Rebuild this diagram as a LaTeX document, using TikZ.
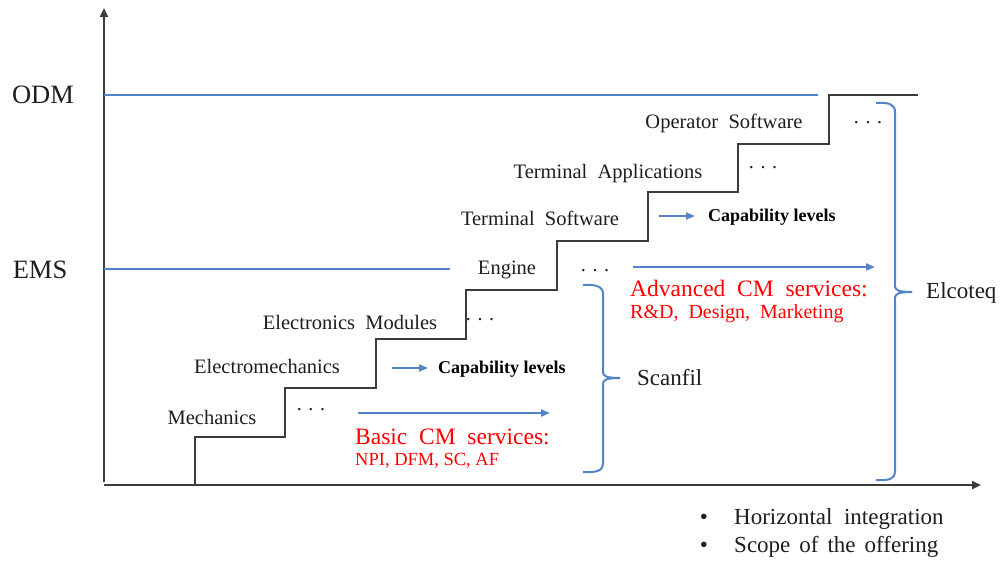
\documentclass[tikz,border=0pt]{standalone}
\usepackage{fontspec}
\setmainfont{Liberation Serif}
\usetikzlibrary{arrows.meta}
\definecolor{axisgray}{RGB}{60,60,60}
\definecolor{lineblue}{RGB}{84,132,200}
\definecolor{txtgray}{RGB}{30,30,30}
\tikzset{
  axisline/.style={draw=axisgray, line width=2.2pt, -{Triangle[length=9pt,width=8pt]}},
  stairline/.style={draw=axisgray, line width=2pt},
  levelline/.style={draw=lineblue, line width=2pt},
  bluearrow/.style={draw=lineblue, line width=2pt, -{Triangle[length=9pt,width=7pt]}},
  bracepath/.style={draw=lineblue, line width=2pt},
  lbl/.style={inner sep=0pt, text=txtgray, font=\fontsize{20.5}{24}\selectfont},
  biglbl/.style={inner sep=0pt, text=txtgray, font=\fontsize{26.5}{30}\selectfont},
  midlbl/.style={inner sep=0pt, text=txtgray, font=\fontsize{23}{27}\selectfont},
  caplbl/.style={inner sep=0pt, anchor=west, text=black, font=\fontsize{18}{22}\selectfont\bfseries},
  redhead/.style={inner sep=0pt, anchor=west, text=red, font=\fontsize{23.5}{27}\selectfont},
  redsub/.style={inner sep=0pt, anchor=west, text=red, font=\fontsize{18.5}{22}\selectfont},
  dotslbl/.style={inner sep=0pt, text=txtgray, font=\fontsize{20}{24}\selectfont},
}
\begin{document}
\begin{tikzpicture}[x=1pt,y=-1pt]
\useasboundingbox (0,0) rectangle (1000,560);
\fill[white] (0,0) rectangle (1000,560);

% axes
\coordinate (ybot) at (104,482);
\coordinate (ytop) at (104,8);
\coordinate (xbeg) at (104,485);
\coordinate (xend) at (981,485);
\draw[axisline] (ybot) -- (ytop);
\draw[axisline] (xbeg) -- (xend);

% level lines
\node[biglbl] (odm) at (43,95) {ODM};
\node[biglbl] (ems) at (40,270) {EMS};
\coordinate (odmA) at (104,94.5);
\coordinate (odmB) at (818,94.5);
\coordinate (emsA) at (104,269);
\coordinate (emsB) at (450,269);
\draw[levelline] (odmA) -- (odmB);
\draw[levelline] (emsA) -- (emsB);

% staircase
\draw[stairline] (195,485) -- (195,437) -- (285,437) -- (285,388) -- (376,388)
  -- (376,339) -- (466,339) -- (466,290) -- (557,290) -- (557,241) -- (648,241)
  -- (648,192) -- (738,192) -- (738,144) -- (829,144) -- (829,94.5) -- (918,94.5);

% step labels
\node[lbl] (mech) at (212,417) {Mechanics};
\node[lbl] (emech) at (267,366) {Electromechanics};
\node[lbl] (emod) at (350,322) {Electronics\ \ Modules};
\node[lbl] (eng) at (507,270) {Engine};
\node[lbl] (tsw) at (540,218) {Terminal\ \ Software};
\node[lbl] (tapp) at (608,174) {Terminal\ \ Applications};
\node[lbl] (osw) at (724,123) {Operator\ \ Software};

% dots
\node[dotslbl] (d1) at (311,410) {.\,\,.\,\,.};
\node[dotslbl] (d2) at (480,320) {.\,\,.\,\,.};
\node[dotslbl] (d3) at (595,271) {.\,\,.\,\,.};
\node[dotslbl] (d4) at (763,168) {.\,\,.\,\,.};
\node[dotslbl] (d5) at (868,123) {.\,\,.\,\,.};

% capability levels
\coordinate (c1a) at (392,368);
\coordinate (c1b) at (428,368);
\draw[bluearrow] (c1a) -- (c1b);
\node[caplbl] (cap1) at (438,369) {Capability\ levels};
\coordinate (c2a) at (659,216);
\coordinate (c2b) at (695,216);
\draw[bluearrow] (c2a) -- (c2b);
\node[caplbl] (cap2) at (708,217) {Capability\ levels};

% basic CM services
\coordinate (b1) at (358,413);
\coordinate (b2) at (550,413);
\draw[bluearrow] (b1) -- (b2);
\node[redhead] (basic) at (355,437) {Basic\ \ CM\ \ services:};
\node[redsub] (basicsub) at (355,461) {NPI, DFM, SC, AF};

% advanced CM services
\coordinate (a1) at (633,267);
\coordinate (a2) at (875,267);
\draw[bluearrow] (a1) -- (a2);
\node[redhead] (adv) at (630,289) {Advanced\ \ CM\ \ services:};
\node[redsub, font=\fontsize{20}{24}\selectfont] (advsub) at (630,314) {R\&D, \ Design, \ Marketing};

% braces
\draw[bracepath] (583,285) .. controls (597,284) and (603,287) .. (603,294) -- (603,372)
  .. controls (603,376) and (606,378) .. (620,378);
\draw[bracepath] (620,378) .. controls (606,378) and (603,380) .. (603,384) -- (603,464)
  .. controls (603,470) and (597,473) .. (583,472);
\node[midlbl, anchor=west] (scanfil) at (637,378) {Scanfil};

\draw[bracepath] (876,103) .. controls (890,102) and (895,105) .. (895,112) -- (895,286)
  .. controls (895,290) and (898,292) .. (912,292);
\draw[bracepath] (912,292) .. controls (898,292) and (895,294) .. (895,298) -- (895,472)
  .. controls (895,478) and (890,481) .. (876,480);
\node[midlbl, anchor=west] (elco) at (926,293) {Elcoteq};

% bottom bullets
\node[midlbl] (bul1) at (704,519) {\textbullet};
\node[midlbl, anchor=west] (hor) at (734,519) {Horizontal\ \ integration};
\node[midlbl] (bul2) at (704,547) {\textbullet};
\node[midlbl, anchor=west] (scope) at (734,547) {Scope\hspace{9pt}of\hspace{9pt}the\hspace{9pt}offering};
\end{tikzpicture}
\end{document}
